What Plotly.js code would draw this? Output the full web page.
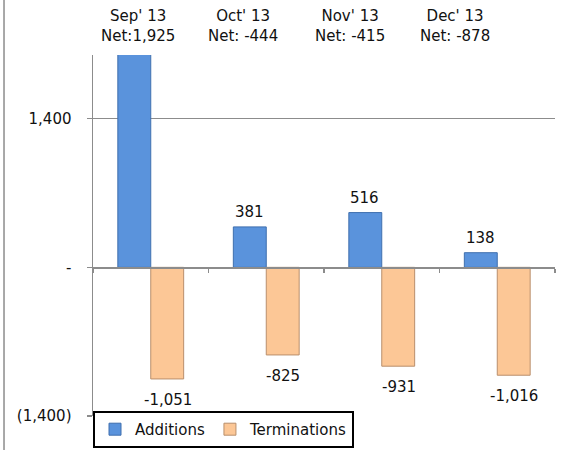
<!DOCTYPE html>
<html>
<head>
<meta charset="utf-8">
<script src="https://cdn.plot.ly/plotly-3.0.1.min.js"></script>
<style>html,body{margin:0;padding:0;background:#fff;}#chart{width:571px;height:450px;}</style>
</head>
<body>
<div id="chart"></div>
<script>
// ---- data ----
var months = ["Sep' 13", "Oct' 13", "Nov' 13", "Dec' 13"];
var netText = ["Net:1,925", "Net: -444", "Net: -415", "Net: -878"];
var additions = [2976, 381, 516, 138];
var terminations = [-1051, -825, -931, -1016];
var yTickVals = [-1400, 0, 1400];
var yTickText = ["(1,400)", "-", "1,400"];

// ---- style / layout constants ----
var FONT = "DejaVu Sans, Verdana, sans-serif";
var FS = 15;
var yRange = [-1400, 2000];
var headerX = [0.097, 0.325, 0.556, 0.784];
var grey = "#8c8c8c";

function fmt(v) {
  var s = Math.abs(v).toLocaleString("en-US");
  return (v < 0 ? "-" : "") + s;
}

var traces = [
  {
    type: "bar", name: "Additions", x: months, y: additions,
    marker: {color: "#5a93dc", line: {color: "#3f6fae", width: 1}},
    hoverinfo: "skip"
  },
  {
    type: "bar", name: "Terminations", x: months, y: terminations,
    marker: {color: "#fcc796", line: {color: "#b98f6c", width: 1}},
    hoverinfo: "skip"
  }
];

var annotations = [];
months.forEach(function (m, i) {
  annotations.push({
    xref: "paper", yref: "paper", x: headerX[i], xanchor: "center", y: 1, yanchor: "bottom", yshift: 8,
    text: m + "<br>" + netText[i], showarrow: false, align: "center",
    font: {family: FONT, size: FS, color: "#111"}
  });
  if (additions[i] <= yRange[1]) {
    annotations.push({
      xref: "x", yref: "y", x: m, y: additions[i], xshift: -17, xanchor: "center",
      yanchor: "bottom", yshift: 4, text: fmt(additions[i]), showarrow: false,
      font: {family: FONT, size: FS, color: "#111"}
    });
  }
  annotations.push({
    xref: "x", yref: "y", x: m, y: terminations[i], xshift: 17, xanchor: "center",
    yanchor: "top", yshift: -10, text: fmt(terminations[i]), showarrow: false,
    font: {family: FONT, size: FS, color: "#111"}
  });
});

var layout = {
  width: 571, height: 450,
  margin: {l: 93, r: 16, t: 55, b: 34, pad: 0, autoexpand: false},
  paper_bgcolor: "#fff", plot_bgcolor: "#fff",
  font: {family: FONT, size: FS, color: "#111"},
  barmode: "group", bargap: 0.43, bargroupgap: 0,
  showlegend: true,
  legend: {
    orientation: "h", x: 0, xanchor: "left", y: 0.014, yanchor: "top",
    bordercolor: "#000", borderwidth: 2, bgcolor: "#fff",
    font: {family: FONT, size: FS, color: "#111"},
    itemwidth: 30, tracegroupgap: 0
  },
  xaxis: {
    type: "category", showticklabels: false,
    showline: true, linecolor: grey, linewidth: 1.5,
    anchor: "free", position: (0 - yRange[0]) / (yRange[1] - yRange[0]),
    ticks: "outside", tickson: "boundaries", ticklen: 4, tickcolor: grey, tickwidth: 1.5,
    showgrid: false, zeroline: false, fixedrange: true
  },
  yaxis: {
    range: yRange, tickvals: yTickVals, ticktext: yTickText,
    showline: true, linecolor: grey, linewidth: 1.5,
    ticks: "outside", ticklen: 5, tickcolor: grey, tickwidth: 1.5,
    ticklabelstandoff: 12,
    showgrid: true, gridcolor: grey, gridwidth: 1.5,
    zeroline: true, zerolinecolor: grey, zerolinewidth: 1.5,
    tickfont: {family: FONT, size: FS, color: "#111"}, fixedrange: true
  },
  annotations: annotations,
  shapes: [{
    type: "line", xref: "paper", yref: "paper",
    x0: -0.1926, x1: -0.1926, y0: -0.2, y1: 1.3,
    line: {color: grey, width: 1.5}
  }]
};

Plotly.newPlot("chart", traces, layout, {displayModeBar: false, staticPlot: true});
</script>
</body>
</html>
